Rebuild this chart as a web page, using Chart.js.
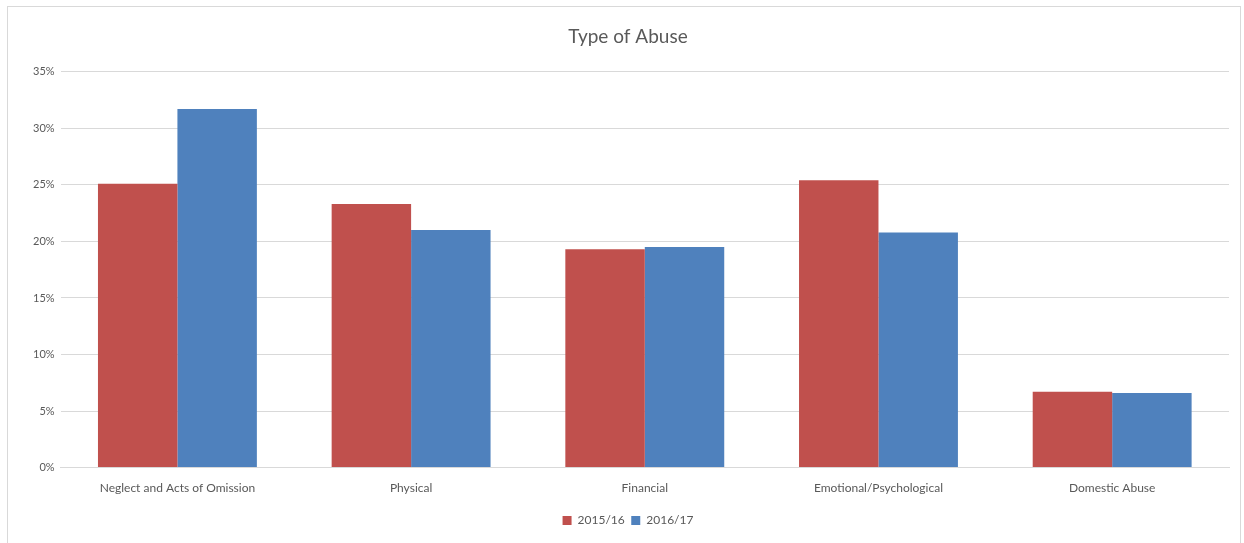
<!DOCTYPE html>
<html>
<head>
<meta charset="utf-8">
<title>Type of Abuse</title>
<script src="https://cdn.jsdelivr.net/npm/chart.js@4.4.0/dist/chart.umd.min.js"></script>
<style>
  body { margin: 0; background: #fff; }
  #frame { position: absolute; left: 7px; top: 6px; width: 1232px; height: 560px; border: 1px solid #d9d9d9; }
  #wrap { position: absolute; left: 0; top: 0; width: 1244px; height: 543px; }
</style>
</head>
<body>
<div id="frame"></div>
<div id="wrap"><canvas id="abuseChart"></canvas></div>
<script>
const categories = ['Neglect and Acts of Omission', 'Physical', 'Financial', 'Emotional/Psychological', 'Domestic Abuse'];
const values1516 = [25.1, 23.3, 19.3, 25.4, 6.7];
const values1617 = [31.7, 21.0, 19.5, 20.8, 6.6];
const yTicks = [0, 5, 10, 15, 20, 25, 30, 35];

const textColor = '#595959';
const fontFamily = 'Lato, "Open Sans", sans-serif';

const ctx = document.getElementById('abuseChart').getContext('2d');
new Chart(ctx, {
    type: 'bar',
    data: {
        labels: categories,
        datasets: [{
            label: '2015/16',
            data: values1516,
            backgroundColor: '#C0504D',
            categoryPercentage: 0.68,
            barPercentage: 1.0
        }, {
            label: '2016/17',
            data: values1617,
            backgroundColor: '#4F81BD',
            categoryPercentage: 0.68,
            barPercentage: 1.0
        }]
    },
    options: {
        responsive: true,
        maintainAspectRatio: false,
        animation: false,
        layout: {
            padding: { left: 27, right: 15, top: 15, bottom: 6.5 }
        },
        plugins: {
            title: {
                display: true,
                text: 'Type of Abuse',
                color: textColor,
                font: { family: fontFamily, size: 19, weight: 'normal' },
                padding: { top: 10, bottom: 24 }
            },
            legend: {
                position: 'bottom',
                labels: {
                    color: textColor,
                    font: { family: fontFamily, size: 12 },
                    boxWidth: 9,
                    boxHeight: 9,
                    padding: 6.5
                }
            },
            tooltip: { enabled: false }
        },
        scales: {
            x: {
                grid: { display: false, drawTicks: false },
                border: { color: '#d9d9d9' },
                ticks: {
                    color: textColor,
                    font: { family: fontFamily, size: 12 },
                    padding: 13
                }
            },
            y: {
                min: 0,
                max: 35,
                afterBuildTicks: (axis) => { axis.ticks = yTicks.map(v => ({ value: v })); },
                grid: { color: '#d9d9d9', drawTicks: false },
                border: { display: false },
                ticks: {
                    color: textColor,
                    font: { family: fontFamily, size: 11 },
                    padding: 6,
                    callback: (v) => v + '%'
                }
            }
        }
    }
});
</script>
</body>
</html>
